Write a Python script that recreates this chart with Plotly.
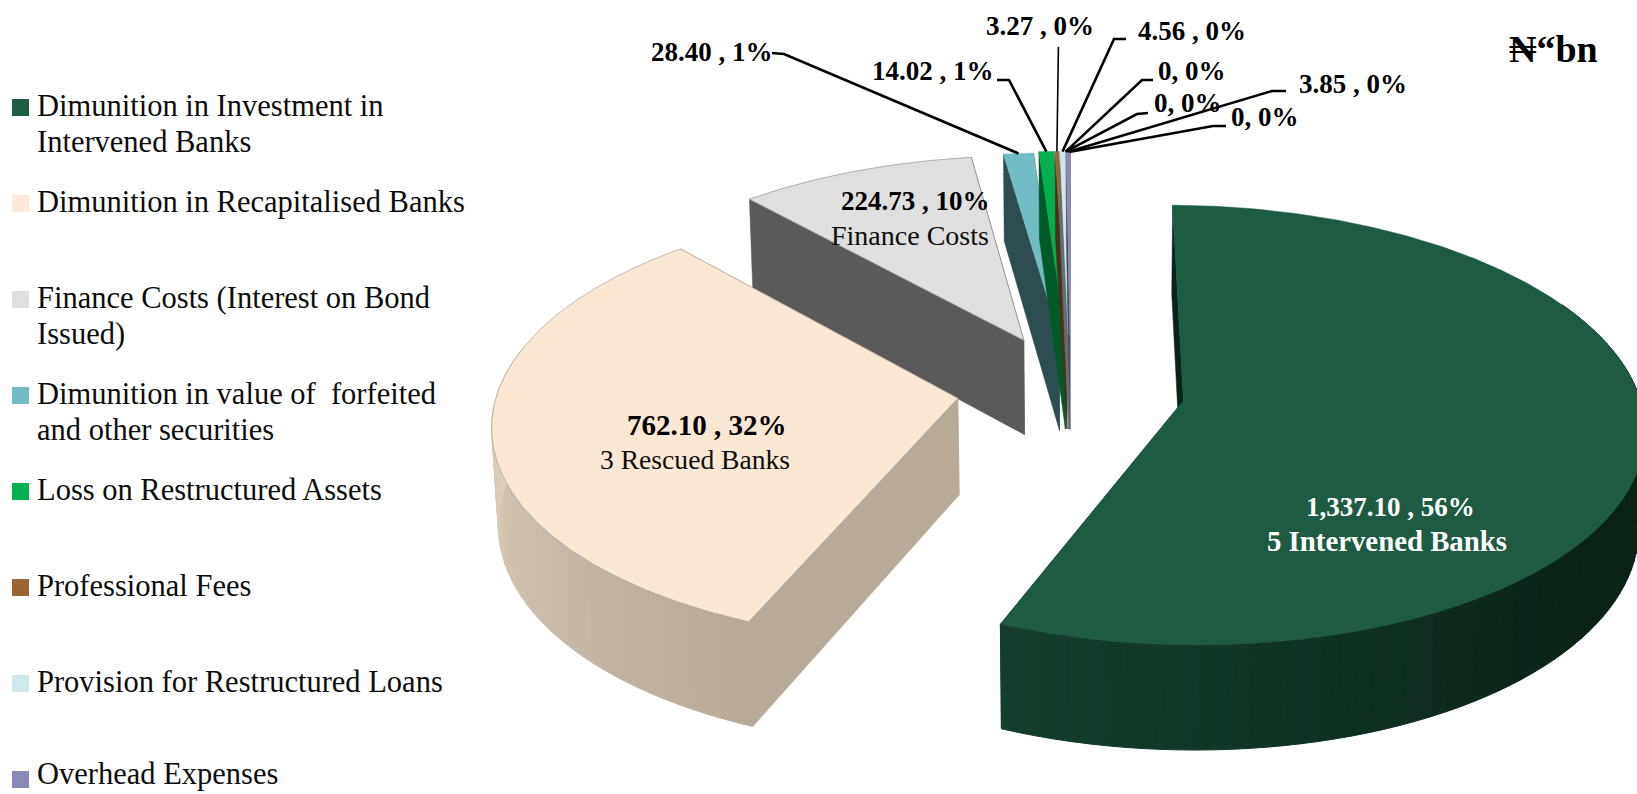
import numpy as np
import plotly.graph_objects as go

# ---------- data ----------
slice_names = ["Intervened", "Recapitalised", "Finance", "Securities", "Assets", "Fees",
               "Provision", "Zero A", "Zero B", "Overhead", "Zero C"]
slice_values = [1337.10, 762.10, 224.73, 28.40, 14.02, 3.27, 4.56, 0, 0, 3.85, 0]
slice_pcts = [56, 32, 10, 1, 1, 0, 0, 0, 0, 0, 0]
value_texts = ["1,337.10", "762.10", "224.73", "28.40", "14.02", "3.27", "4.56", "0", "0", "3.85", "0"]
legend_labels = ["Dimunition in Investment in<br>Intervened Banks", "Dimunition in Recapitalised Banks",
                 "Finance Costs (Interest on Bond<br>Issued)", "Dimunition in value of  forfeited<br>and other securities",
                 "Loss on Restructured Assets", "Professional Fees", "Provision for Restructured Loans",
                 "Overhead Expenses"]
legend_colors = ["#1D5B43", "#FDE9D9", "#DFDFDF", "#72BCC4", "#00B050", "#996633", "#CEE8EC", "#8A8AB8"]
big_captions = ["5 Intervened Banks", "3 Rescued Banks", "Finance Costs"]
unit_label = "₦“bn"

# ---------- styling of the faces ----------
top_colors = ["#1D5B43", "#FAE8D4", "#DFDFDF", "#72BCC4", "#00B050", "#996633", "#CEE8EC", "#8A8AB8", "#8A8AB8", "#8A8AB8", "#8A8AB8"]
wall_colors = ["#0A2317", "#B7AA99", "#5A5A5A", "#2D4D50", "#005A28", "#4A3116", "#5F7074", "#44445C", "#44445C", "#44445C", "#44445C"]
arc_near = {0: "#153E2D", 1: "#B6A998"}
arc_far = {0: "#0A2317", 1: "#E0D0BD"}
arc_span = {0: 75.0, 1: 72.0}
outline = {1: "#ABA298", 2: "#8F8F8F"}

# camera fitted to the picture: plane (X, Y, Z) -> page pixels
CAM_X = [470.228, 52.7516, -12.0002, 1076.2]
CAM_Y = [-21.4779, -169.787, -100.942, 378.973]
CAM_W = [0.0184869, 0.107786, -0.011073, 1.0]
ROTATION = 7.98618
EXPLODE = [(0.217064, -0.131597), (-0.267701, -0.0548781), (-0.0906533, 0.199089), (-0.00935746, 0.207706),
           (0.00497101, 0.213536), (0.0083, 0.2125), (0.0118, 0.2115), (0.0135, 0.211), (0.0135, 0.211),
           (0.015, 0.210445), (0.015, 0.210445)]
W, H = 1637, 794
LABEL_FONT = "Liberation Serif"


def project(X, Y, Z):
    X, Y = np.asarray(X, float), np.asarray(Y, float)
    w = CAM_W[0] * X + CAM_W[1] * Y + CAM_W[2] * Z + CAM_W[3]
    return ((CAM_X[0] * X + CAM_X[1] * Y + CAM_X[2] * Z + CAM_X[3]) / w,
            (CAM_Y[0] * X + CAM_Y[1] * Y + CAM_Y[2] * Z + CAM_Y[3]) / w)


def rim(i, theta, Z=0.0, r=1.0):
    t = np.radians(np.asarray(theta, float) + ROTATION)
    return project(EXPLODE[i][0] + r * np.sin(t), EXPLODE[i][1] + r * np.cos(t), Z)


def mix(a, b, f):
    ca = [int(a[k:k + 2], 16) for k in (1, 3, 5)]
    cb = [int(b[k:k + 2], 16) for k in (1, 3, 5)]
    return "#%02X%02X%02X" % tuple(round(x + (y - x) * f) for x, y in zip(ca, cb))


fig = go.Figure()


def face(xs, ys, color, line=None, width=1.0):
    fig.add_trace(go.Scatter(x=list(xs), y=list(ys), mode="lines", fill="toself", fillcolor=color,
                             line=dict(color=line or color, width=width), hoverinfo="skip", showlegend=False))


edges = np.concatenate([[0], np.cumsum(slice_values)]) / np.sum(slice_values) * 360.0


def draw_slice(i):
    a, b = edges[i], edges[i + 1]
    if b <= a:
        return
    wall = wall_colors[i]
    # radial walls
    for th in (b, a):
        x0, y0 = rim(i, th, 0, 0)
        x1, y1 = rim(i, th, 0, 1)
        x2, y2 = rim(i, th, -1, 1)
        x3, y3 = rim(i, th, -1, 0)
        face([x0, x1, x2, x3, x0], [y0, y1, y2, y3, y0], wall, width=0.5)
    # outer wall, shaded strip by strip on the side facing the viewer
    if i in arc_near:
        steps = np.arange(a, b + 2.0, 2.0)
        steps[-1] = b
        for t0, t1 in zip(steps[:-1], steps[1:]):
            if np.cos(np.radians(0.5 * (t0 + t1) + ROTATION)) > 0.35:
                continue
            fx = min(1.0, abs(0.5 * (t0 + t1) - edges[1]) / arc_span[i])
            col = mix(arc_near[i], arc_far[i], fx)
            ax, ay = rim(i, [t0, t1], 0)
            bx, by = rim(i, [t1, t0], -1)
            face(list(ax) + list(bx) + [ax[0]], list(ay) + list(by) + [ay[0]], col)
    # top face
    th = np.linspace(a, b, max(6, int((b - a) * 2)))
    rx, ry = rim(i, th, 0)
    ox, oy = rim(i, a, 0, 0)
    face([float(ox)] + list(rx) + [float(ox)], [float(oy)] + list(ry) + [float(oy)], top_colors[i],
         line=outline.get(i), width=0.7 if i in outline else 0.5)


for i in [2, 3, 4, 5, 6, 9, 1, 0]:
    draw_slice(i)

# leader lines: label end is placed by hand, slice end comes from the slice's own rim
leaders = {3: ((772, 53), (784, 54), 2.6), 4: ((997, 80), (1009, 80), 2.6), 5: ((1058.4, 47), (1058.4, 47), 1.6),
           6: ((1126, 39), (1114, 39), 2.6), 7: ((1153, 80), (1142, 80), 2.6), 8: ((1148, 113), (1137, 114), 2.6),
           9: ((1286, 91), (1272, 91), 2.6), 10: ((1226, 126), (1213, 126), 2.6)}
for i, (p0, p1, lw) in leaders.items():
    ex, ey = rim(i, 0.5 * (edges[i] + edges[i + 1]), 0)
    fig.add_trace(go.Scatter(x=[p0[0], p1[0], float(ex)], y=[p0[1], p1[1], float(ey)], mode="lines",
                             line=dict(color="#000000", width=lw), hoverinfo="skip", showlegend=False))


def note(x, y, text, size, color="#0D0D0D", anchor="center"):
    fig.add_annotation(x=x, y=y, text=text, showarrow=False, xanchor=anchor, yanchor="middle", align="left" if anchor == "left" else "center",
                       font=dict(family=LABEL_FONT, size=size, color=color), xref="x", yref="y")


def value_label(i):
    return f"{value_texts[i]} , {slice_pcts[i]}%" if slice_values[i] else f"{value_texts[i]}, {slice_pcts[i]}%"


label_pos = {3: (712, 52), 4: (933, 71), 5: (1040, 26), 6: (1192, 31), 7: (1192, 71), 8: (1188, 103), 9: (1353, 84), 10: (1265, 117)}
for i, (x, y) in label_pos.items():
    note(x, y, f"<b>{value_label(i)}</b>", 27, "#000000")

note(1390, 507, f"<b>{value_label(0)}</b>", 27, "#FFFFFF")
note(1387, 541, f"<b>{big_captions[0]}</b>", 28.8, "#FFFFFF")
note(707, 425, f"<b>{value_label(1)}</b>", 29, "#000000")
note(695, 459, big_captions[1], 27.6)
note(915, 201, f"<b>{value_label(2)}</b>", 27, "#000000")
note(910, 235, big_captions[2], 28)
note(1553, 49, f"<b>{unit_label}</b>", 38, "#000000")

# legend column
legend_top = 107.5
legend_pitch = 96.0
legend_line = 35.5
for k, (lab, col) in enumerate(zip(legend_labels, legend_colors)):
    yc = legend_top + k * legend_pitch
    fig.add_shape(type="rect", x0=12, x1=29, y0=yc - 8.5, y1=yc + 8.5, fillcolor=col, line=dict(width=0), xref="x", yref="y")
    text_y = min(yc - 1.5, 773.5)  # keep the last entry's text box inside the page
    for n, part in enumerate(lab.split("<br>")):
        note(35, text_y + n * legend_line, part, 30.5, anchor="left")

fig.update_layout(width=W, height=H, margin=dict(l=0, r=0, t=0, b=0), paper_bgcolor="#FFFFFF", plot_bgcolor="#FFFFFF",
                  showlegend=False,
                  xaxis=dict(range=[0, W], visible=False, fixedrange=True),
                  yaxis=dict(range=[H, 0], visible=False, fixedrange=True))
fig.write_html("out.html", post_script="document.body.style.margin='0';document.body.style.overflow='hidden';",
               config={"displayModeBar": False})
